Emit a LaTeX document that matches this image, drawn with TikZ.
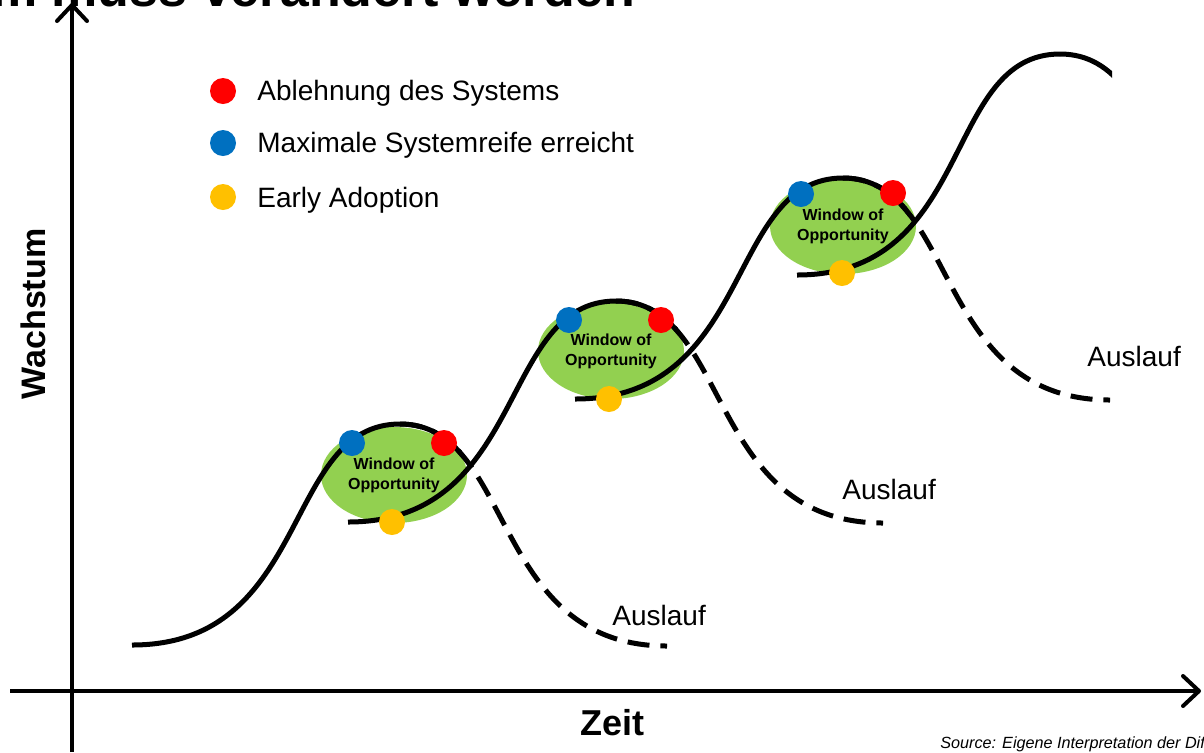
\documentclass[tikz,border=0pt]{standalone}
\usepackage{fontspec}
\setmainfont{Liberation Sans}
\usetikzlibrary{arrows.meta, shapes.geometric}
\definecolor{oppgreen}{HTML}{92D050}
\definecolor{rejred}{HTML}{FF0000}
\definecolor{matblue}{HTML}{0070C0}
\definecolor{earlyyellow}{HTML}{FFC000}
\tikzset{>=latex}
\tikzset{
  growthline/.style = {line width = 2.5pt},
  declineline/.style = {line width = 2.5pt, dash pattern = on 11pt off 5.5pt},
  axisline/.style = {line width = 2pt, -{Straight Barb[length = 8pt, width = 15pt, round]}},
  pointdot/.style = {circle, draw = none, inner sep = 0pt, minimum size = 13pt},
  window/.style = {ellipse, fill = oppgreen, inner sep = 0pt, minimum width = 73pt, minimum height = 48pt,
    align = center, font = \bfseries\fontsize{8}{10}\selectfont},
  keytext/.style = {anchor = base west, inner sep = 0pt, font = \fontsize{14}{16}\selectfont},
  axislabel/.style = {anchor = base, inner sep = 0pt, font = \bfseries\fontsize{18}{20}\selectfont},
  headline/.style = {anchor = base east, inner sep = 0pt, font = \bfseries\fontsize{26}{30}\selectfont},
}

\begin{document}
\begin{tikzpicture}[x = 0.5pt, y = -0.5pt]
\useasboundingbox (0,0) rectangle (1204,752);
\node[headline] (heading) at (636,6) {m muss verändert werden};

% axes
\coordinate (yfoot) at (72,752);
\coordinate (ytip) at (72,3);
\coordinate (xfoot) at (10,691);
\coordinate (xtip) at (1201,691);
\draw[axisline] (yfoot) -- (ytip);
\draw[axisline] (xfoot) -- (xtip);
\node[axislabel, rotate = 90, font = \bfseries\fontsize{17}{20}\selectfont] (wachstum) at (45,314) {Wachstum};
\node[axislabel] (zeit) at (612,735) {Zeit};

% windows of opportunity
\node[window] (win1) at (394,475) {Window of\\Opportunity};
\node[window] (win2) at (611,351) {Window of\\Opportunity};
\node[window] (win3) at (843,226) {Window of\\Opportunity};

% s-curves: start, peak, end of the Auslauf
\coordinate (s1) at (132,645); \coordinate (p1) at (400,424); \coordinate (e1) at (667,646);
\coordinate (s2) at (348,522); \coordinate (p2) at (616,301); \coordinate (e2) at (883,523);
\coordinate (s3) at (575,399); \coordinate (p3) at (843,178); \coordinate (e3) at (1110,400);
\coordinate (s4) at (797,275); \coordinate (p4) at (1060,54);  \coordinate (e4) at (1327,276);

\draw[growthline] (s1) .. controls +(180,0) and +(-118,0) .. (p1);
\draw[growthline] (s2) .. controls +(180,0) and +(-118,0) .. (p2);
\draw[growthline] (s3) .. controls +(180,0) and +(-118,0) .. (p3);
\draw[growthline] (s4) .. controls +(178,0) and +(-118,0) .. (p4);

\draw[declineline] (p1) .. controls +(115,0) and +(-178,0) .. (e1);
\draw[declineline] (p2) .. controls +(115,0) and +(-178,0) .. (e2);
\draw[declineline] (p3) .. controls +(115,0) and +(-178,0) .. (e3);

% solid head of each decline
\begin{scope}
\clip (390,400) rectangle (462,500);
\draw[growthline] (p1) .. controls +(115,0) and +(-178,0) .. (e1);
\end{scope}
\begin{scope}
\clip (606,277) rectangle (678,377);
\draw[growthline] (p2) .. controls +(115,0) and +(-178,0) .. (e2);
\end{scope}
\begin{scope}
\clip (833,154) rectangle (908,254);
\draw[growthline] (p3) .. controls +(115,0) and +(-178,0) .. (e3);
\end{scope}
\begin{scope}
\clip (1050,30) rectangle (1112,130);
\draw[growthline] (p4) .. controls +(115,0) and +(-178,0) .. (e4);
\end{scope}

% markers
\node[pointdot, fill = matblue] (max1) at (352,443) {};
\node[pointdot, fill = rejred] (rej1) at (444,443) {};
\node[pointdot, fill = earlyyellow] (early1) at (392,522) {};
\node[pointdot, fill = matblue] (max2) at (569,320) {};
\node[pointdot, fill = rejred] (rej2) at (661,320) {};
\node[pointdot, fill = earlyyellow] (early2) at (609,399) {};
\node[pointdot, fill = matblue] (max3) at (801,194) {};
\node[pointdot, fill = rejred] (rej3) at (893,193) {};
\node[pointdot, fill = earlyyellow] (early3) at (842,273) {};

\node[keytext] (aus1) at (612,625) {Auslauf};
\node[keytext] (aus2) at (842,499) {Auslauf};
\node[keytext] (aus3) at (1087,366) {Auslauf};

% legend
\node[pointdot, fill = rejred] (keyrej) at (223,91) {};
\node[keytext] (keyrejtext) at (257,100) {Ablehnung des Systems};
\node[pointdot, fill = matblue] (keymax) at (223,143) {};
\node[keytext] (keymaxtext) at (257,152) {Maximale Systemreife erreicht};
\node[pointdot, fill = earlyyellow] (keyearly) at (223,197) {};
\node[keytext] (keyearlytext) at (257,207) {Early Adoption};

\node[anchor = base west, inner sep = 0pt, font = \itshape\fontsize{8.1}{10}\selectfont] (source) at (940,748)
  {Source: Eigene Interpretation der Dif};
\end{tikzpicture}
\end{document}
